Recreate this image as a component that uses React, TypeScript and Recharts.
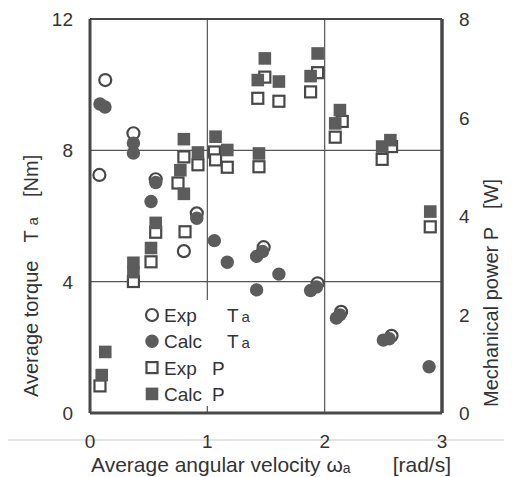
import React from 'react'
import {
  ScatterChart,
  Scatter,
  XAxis,
  YAxis,
  CartesianGrid,
  ReferenceLine,
  Legend
} from 'recharts'

const FONT = '"Liberation Sans", Arial, sans-serif'
const INK = '#333'
const MARK = '#5c5c5c'
const EDGE = '#484848'

// angular velocity [rad/s] and torque [Nm] / power [W]
const expTorqueOmega = [0.08, 0.13, 0.37, 0.56, 0.8, 0.91, 1.48, 1.94, 2.14, 2.57]
const expTorque = [7.25, 10.14, 8.52, 7.12, 4.93, 6.08, 5.05, 3.95, 3.08, 2.35]

const calcTorqueOmega = [
  0.085, 0.128, 0.37, 0.37, 0.56, 0.52, 0.91, 1.06, 1.17, 1.42, 1.47, 1.42, 1.61, 1.88, 1.93,
  2.1, 2.13, 2.5, 2.55, 2.89
]
const calcTorque = [
  9.41, 9.32, 8.22, 7.92, 7.02, 6.44, 5.93, 5.25, 4.59, 4.77, 4.92, 3.75, 4.23, 3.73, 3.84, 2.89,
  2.99, 2.22, 2.26, 1.41
]

const expPowerOmega = [
  0.085, 0.37, 0.52, 0.56, 0.75, 0.8, 0.81, 0.92, 1.06, 1.07, 1.17, 1.44, 1.43, 1.49, 1.61, 1.88,
  1.94, 2.09, 2.15, 2.49, 2.57, 2.9
]
const expPower = [
  0.55, 2.67, 3.07, 3.67, 4.67, 5.2, 3.68, 5.04, 5.3, 5.14, 4.99, 5.0, 6.39, 6.82, 6.33, 6.52,
  6.91, 5.6, 5.92, 5.15, 5.41, 3.78
]

const calcPowerOmega = [
  0.1, 0.13, 0.37, 0.37, 0.52, 0.56, 0.77, 0.8, 0.8, 0.92, 1.07, 1.17, 1.44, 1.43, 1.49, 1.61,
  1.88, 1.94, 2.09, 2.13, 2.49, 2.56, 2.9
]
const calcPower = [
  0.77, 1.24, 2.86, 3.05, 3.35, 3.86, 4.93, 4.45, 5.56, 5.29, 5.61, 5.34, 5.27, 6.76, 7.2, 6.73,
  6.84, 7.3, 5.88, 6.15, 5.41, 5.54, 4.09
]

const xTicks = [0, 1, 2, 3]
const torqueTicks = [0, 4, 8, 12]
const powerTicks = [0, 2, 4, 6, 8]

const toPoints = (xs: number[], ys: number[]) => xs.map((x, i) => ({ x, y: ys[i] }))

const expTorqueData = toPoints(expTorqueOmega, expTorque)
const calcTorqueData = toPoints(calcTorqueOmega, calcTorque)
const expPowerData = toPoints(expPowerOmega, expPower)
const calcPowerData = toPoints(calcPowerOmega, calcPower)

const OpenCircle = (p: any) => (
  <circle cx={p.cx} cy={p.cy} r={6} fill="#fff" stroke={EDGE} strokeWidth={2.2} />
)
const FilledCircle = (p: any) => <circle cx={p.cx} cy={p.cy} r={6.7} fill={MARK} />
const OpenSquare = (p: any) => (
  <rect x={p.cx - 5.5} y={p.cy - 5.5} width={11} height={11} fill="#fff" stroke={EDGE} strokeWidth={2.2} />
)
const FilledSquare = (p: any) => (
  <rect x={p.cx - 6.3} y={p.cy - 6.3} width={12.6} height={12.6} fill={MARK} />
)

const XTick = ({ x, y, payload }: any) => (
  <text x={x} y={y + 27} textAnchor="middle" fontSize={19} fill={INK} fontFamily={FONT}>
    {payload.value}
  </text>
)
const LeftTick = ({ x, y, payload }: any) => (
  <text x={x - 9} y={y + 7} textAnchor="end" fontSize={19} fill={INK} fontFamily={FONT}>
    {payload.value}
  </text>
)
const RightTick = ({ x, y, payload }: any) => (
  <text x={x + 9} y={y + 7} textAnchor="start" fontSize={19} fill={INK} fontFamily={FONT}>
    {payload.value}
  </text>
)

const XTitle = ({ viewBox }: any) => (
  <g fontFamily={FONT} fill={INK} fontSize={21}>
    <text x={viewBox.x + 1} y={viewBox.y + 59}>
      Average angular velocity ω<tspan fontSize={14} dy={1}>a</tspan>
    </text>
    <text x={viewBox.x + viewBox.width + 9} y={viewBox.y + 59} textAnchor="end">
      [rad/s]
    </text>
  </g>
)

const LeftTitle = ({ viewBox }: any) => {
  const cx = viewBox.x + 1
  const cy = viewBox.y + viewBox.height - 16
  return (
    <text
      x={cx}
      y={cy}
      dy="0.35em"
      transform={`rotate(-90, ${cx}, ${cy})`}
      fontFamily={FONT}
      fill={INK}
      fontSize={20}
    >
      Average torque<tspan dx={18}>T</tspan>
      <tspan dx={5} fontSize={15}>a</tspan>
      <tspan dx={20}>[Nm]</tspan>
    </text>
  )
}

const RightTitle = ({ viewBox }: any) => {
  const cx = viewBox.x + viewBox.width - 11
  const cy = viewBox.y + viewBox.height - 6
  return (
    <text
      x={cx}
      y={cy}
      dy="0.35em"
      transform={`rotate(-90, ${cx}, ${cy})`}
      fontFamily={FONT}
      fill={INK}
      fontSize={20}
    >
      Mechanical power P<tspan dx={18}>[W]</tspan>
    </text>
  )
}

const legendRows = [
  { label: 'Exp', sub: true, kind: 'openCircle' },
  { label: 'Calc', sub: true, kind: 'filledCircle' },
  { label: 'Exp', sub: false, kind: 'openSquare' },
  { label: 'Calc', sub: false, kind: 'filledSquare' }
]

const LegendBox = () => (
  <div style={{ background: '#fff', width: 116, height: 106 }}>
    <svg width={116} height={106} style={{ display: 'block' }}>
      {legendRows.map((row, i) => {
        const cy = 15 + i * 26.3
        const cx = 17
        const mark =
          row.kind === 'openCircle' ? (
            <OpenCircle cx={cx} cy={cy} />
          ) : row.kind === 'filledCircle' ? (
            <FilledCircle cx={cx} cy={cy} />
          ) : row.kind === 'openSquare' ? (
            <OpenSquare cx={cx} cy={cy} />
          ) : (
            <FilledSquare cx={cx} cy={cy} />
          )
        return (
          <g key={i}>
            {mark}
            <text x={29} y={cy + 7} fontFamily={FONT} fontSize={19} fill={INK}>
              {row.label}
            </text>
            {row.sub ? (
              <text x={92} y={cy + 7} fontFamily={FONT} fill={INK}>
                <tspan fontSize={19}>T</tspan>
                <tspan dx={3} fontSize={15}>a</tspan>
              </text>
            ) : (
              <text x={77} y={cy + 7} fontFamily={FONT} fontSize={19} fill={INK}>
                P
              </text>
            )}
          </g>
        )
      })}
    </svg>
  </div>
)

export default function App() {
  return (
    <div style={{ position: 'relative', width: 504, height: 469 }}>
      <div
        style={{
          position: 'absolute',
          left: -8,
          top: 431,
          width: 512,
          height: 2,
          background: '#e4e4e4'
        }}
      />
      <ScatterChart width={504} height={469} margin={{ top: 11, right: 10, left: 22, bottom: 14 }}>
        <CartesianGrid yAxisId="T" stroke="#555" strokeWidth={1.2} />
        <XAxis
          type="number"
          dataKey="x"
          domain={[0, 3]}
          ticks={xTicks}
          height={50}
          tickLine={false}
          axisLine={{ stroke: EDGE, strokeWidth: 3 }}
          tick={<XTick />}
          label={{ content: <XTitle /> }}
        />
        <YAxis
          yAxisId="T"
          type="number"
          dataKey="y"
          domain={[0, 12]}
          ticks={torqueTicks}
          width={60}
          tickLine={false}
          axisLine={{ stroke: EDGE, strokeWidth: 3 }}
          tick={<LeftTick />}
          label={{ content: <LeftTitle /> }}
        />
        <YAxis
          yAxisId="P"
          orientation="right"
          type="number"
          dataKey="y"
          domain={[0, 8]}
          ticks={powerTicks}
          width={60}
          tickLine={false}
          axisLine={{ stroke: EDGE, strokeWidth: 3.5 }}
          tick={<RightTick />}
          label={{ content: <RightTitle /> }}
        />
        <ReferenceLine yAxisId="T" y={12} stroke={EDGE} strokeWidth={2.2} />
        <Scatter
          name="Exp Ta"
          yAxisId="T"
          data={expTorqueData}
          shape={<OpenCircle />}
          isAnimationActive={false}
        />
        <Scatter
          name="Calc Ta"
          yAxisId="T"
          data={calcTorqueData}
          shape={<FilledCircle />}
          isAnimationActive={false}
        />
        <Scatter
          name="Exp P"
          yAxisId="P"
          data={expPowerData}
          shape={<OpenSquare />}
          isAnimationActive={false}
        />
        <Scatter
          name="Calc P"
          yAxisId="P"
          data={calcPowerData}
          shape={<FilledSquare />}
          isAnimationActive={false}
        />
        <Legend
          layout="horizontal"
          verticalAlign="middle"
          content={<LegendBox />}
          wrapperStyle={{ position: 'absolute', left: 127, top: 292, width: 116, height: 106 }}
        />
      </ScatterChart>
    </div>
  )
}
